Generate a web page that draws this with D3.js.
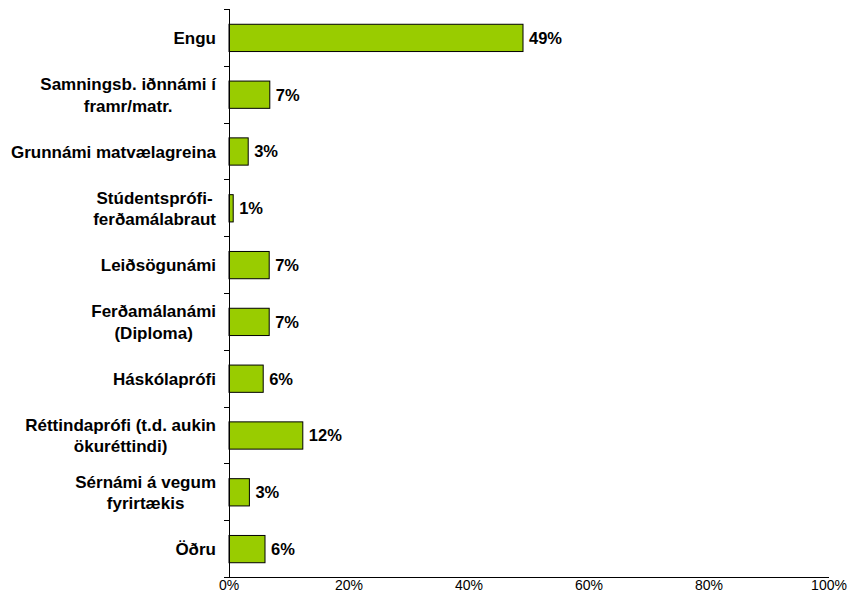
<!DOCTYPE html>
<html><head><meta charset="utf-8">
<script src="https://cdn.jsdelivr.net/npm/d3@7"></script>
<style>body{margin:0;background:#fff;overflow:hidden}svg{display:block}</style>
</head><body>
<svg id="c" width="850" height="596"></svg>
<script>
const categories = [
  ["Engu"],
  ["Samningsb. iðnnámi í","framr/matr."],
  ["Grunnámi matvælagreina"],
  ["Stúdentsprófi-","ferðamálabraut"],
  ["Leiðsögunámi"],
  ["Ferðamálanámi","(Diploma)"],
  ["Háskólaprófi"],
  ["Réttindaprófi (t.d. aukin","ökuréttindi)"],
  ["Sérnámi á vegum","fyrirtækis"],
  ["Öðru"]
];
const values = [49.0, 6.8, 3.2, 0.7, 6.7, 6.7, 5.7, 12.3, 3.4, 6.0];
const xTicks = [0, 20, 40, 60, 80, 100];

const svg = d3.select("#c");
const m = {l:229, r:829, t:9, b:577};
const x = d3.scaleLinear().domain([0,100]).range([m.l, m.r]);
const y = d3.scaleBand().domain(d3.range(categories.length)).range([m.t, m.b]).paddingInner(0.52).paddingOuter(0.26);
const fullBand = (m.b - m.t) / categories.length;

svg.selectAll("rect.bar").data(values).join("rect")
  .attr("class","bar")
  .attr("x", x(0)).attr("y", (d,i)=>y(i)+0.5)
  .attr("width", d=>x(d)-x(0)).attr("height", y.bandwidth())
  .attr("fill","#99CC00").attr("stroke","#000").attr("stroke-width",1);

svg.selectAll("text.val").data(values).join("text")
  .attr("class","val")
  .attr("x", d=>x(d)+6).attr("y",(d,i)=>y(i)+y.bandwidth()/2+0.5)
  .attr("dy","0.36em")
  .attr("font-family","Liberation Sans, Arial, sans-serif").attr("font-weight","bold").attr("font-size","16.5px")
  .text(d=>Math.round(d)+"%");

svg.append("line").attr("x1",m.l+0.5).attr("x2",m.l+0.5).attr("y1",m.t).attr("y2",m.b).attr("stroke","#000");
const bounds = d3.range(categories.length+1).map(i=>m.t + i*fullBand);
svg.selectAll("line.yt").data(bounds).join("line").attr("class","yt")
  .attr("x1",m.l-5).attr("x2",m.l).attr("y1",d=>Math.round(d)+0.5).attr("y2",d=>Math.round(d)+0.5)
  .attr("stroke","#000");

svg.append("line").attr("x1",m.l-5).attr("x2",m.r).attr("y1",m.b+0.5).attr("y2",m.b+0.5).attr("stroke","#000");
svg.selectAll("text.xt").data(xTicks).join("text").attr("class","xt")
  .attr("x",d=>x(d)).attr("y",m.b+13)
  .attr("text-anchor","middle")
  .attr("font-family","Liberation Sans, Arial, sans-serif").attr("font-size","14px")
  .text(d=>d+"%");

const right = 216, lh = 21.5;
categories.forEach((lines,i)=>{
  const g = svg.append("g");
  const cy = y(i)+y.bandwidth()/2+0.5;
  const ts = lines.map((t,j)=>g.append("text")
    .attr("y", cy + (j-(lines.length-1)/2)*lh)
    .attr("dy","0.36em")
    .attr("text-anchor","middle")
    .attr("font-family","Liberation Sans, Arial, sans-serif").attr("font-weight","bold").attr("font-size","17px")
    .text(t));
  const w = d3.max(ts, t=>t.node().getComputedTextLength());
  ts.forEach(t=>t.attr("x", right - w/2));
});
</script>
</body></html>
